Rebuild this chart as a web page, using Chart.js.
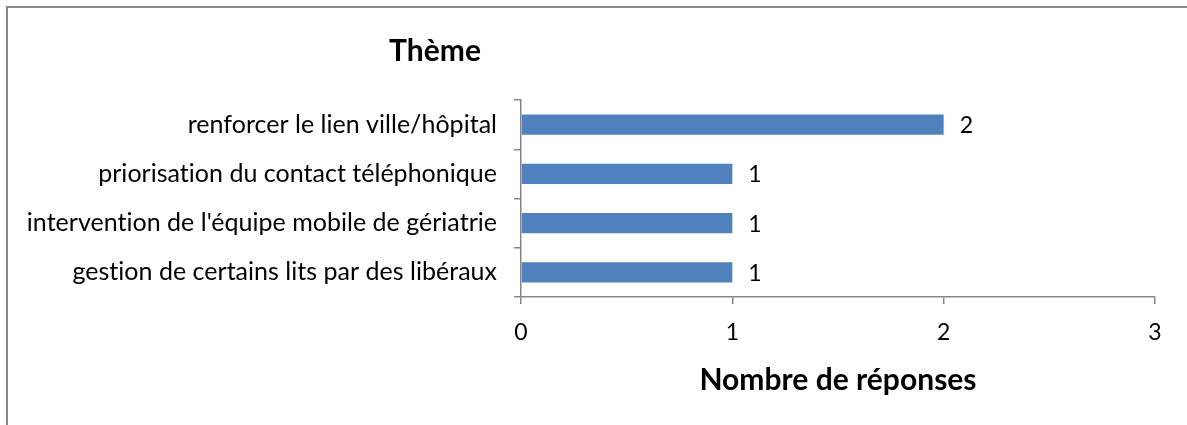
<!DOCTYPE html>
<html>
<head>
<meta charset="utf-8">
<script src="https://cdn.jsdelivr.net/npm/chart.js@4"></script>
<style>
  html, body { margin: 0; padding: 0; background: #fff; }
  #wrap { position: relative; width: 1187px; height: 425px; overflow: hidden; }
  #frame { position: absolute; left: 6px; top: 6px; width: 1300px; height: 500px;
           border-left: 2px solid #878787; border-top: 2px solid #878787; }
  canvas { position: absolute; left: 0; top: 0; }
</style>
</head>
<body>
<div id="wrap">
  <div id="frame"></div>
  <canvas id="barChart" width="1187" height="425"></canvas>
</div>
<script>
// thèmes et nombre de réponses
const categories = [
  'renforcer le lien ville/hôpital',
  'priorisation du contact téléphonique',
  "intervention de l'équipe mobile de gériatrie",
  'gestion de certains lits par des libéraux'
];
const responses = [2, 1, 1, 1];
const xTicks = [0, 1, 2, 3];

const FONT = 'Lato, "Open Sans", sans-serif';
const AXIS_GREY = '#868686';

// pas de ligatures "ti" de Lato
const noLigatures = {
  id: 'noLigatures',
  beforeDraw(chart) {
    if ('letterSpacing' in chart.ctx) chart.ctx.letterSpacing = '0.02px';
  }
};

// valeurs à droite des barres + titre "Thème"
const labelsPlugin = {
  id: 'barLabels',
  afterDatasetsDraw(chart) {
    const ctx = chart.ctx;
    const meta = chart.getDatasetMeta(0);
    ctx.save();
    ctx.fillStyle = '#000';
    ctx.font = '23px ' + FONT;
    ctx.textAlign = 'left';
    ctx.textBaseline = 'middle';
    meta.data.forEach((bar, i) => {
      const p = bar.getProps(['x', 'y'], true);
      ctx.fillText(String(responses[i]), p.x + 16, p.y + 1);
    });
    ctx.font = 'bold 30px ' + FONT;
    ctx.textAlign = 'center';
    ctx.fillText('Thème', chart.chartArea.left - 86, 51);
    ctx.restore();
  }
};

new Chart(document.getElementById('barChart').getContext('2d'), {
  type: 'bar',
  data: {
    labels: categories,
    datasets: [{
      data: responses,
      backgroundColor: '#4F81BD',
      borderWidth: 0,
      categoryPercentage: 1,
      barPercentage: 0.41
    }]
  },
  options: {
    indexAxis: 'y',
    responsive: false,
    animation: false,
    layout: { padding: { top: 100, right: 32, left: 0, bottom: 0 } },
    plugins: {
      legend: { display: false },
      tooltip: { enabled: false }
    },
    scales: {
      x: {
        min: 0,
        max: 3,
        afterFit(scale) { scale.height = 128; },
        afterBuildTicks(scale) { scale.ticks = xTicks.map(v => ({ value: v })); },
        ticks: { color: '#000', font: { family: FONT, size: 23 }, padding: 15 },
        grid: { drawOnChartArea: false, tickLength: 7, color: AXIS_GREY, lineWidth: 1.5 },
        border: { color: AXIS_GREY, width: 1.5 },
        title: {
          display: true,
          text: 'Nombre de réponses',
          color: '#000',
          font: { family: FONT, size: 30, weight: 'bold' },
          padding: { top: 0, bottom: 27 }
        }
      },
      y: {
        afterFit(scale) { scale.width = 521; },
        ticks: { color: '#000', font: { family: FONT, size: 25 }, padding: 17 },
        grid: { drawOnChartArea: false, tickLength: 7, color: AXIS_GREY, lineWidth: 1.5 },
        border: { color: AXIS_GREY, width: 1.5 }
      }
    }
  },
  plugins: [noLigatures, labelsPlugin]
});
</script>
</body>
</html>
